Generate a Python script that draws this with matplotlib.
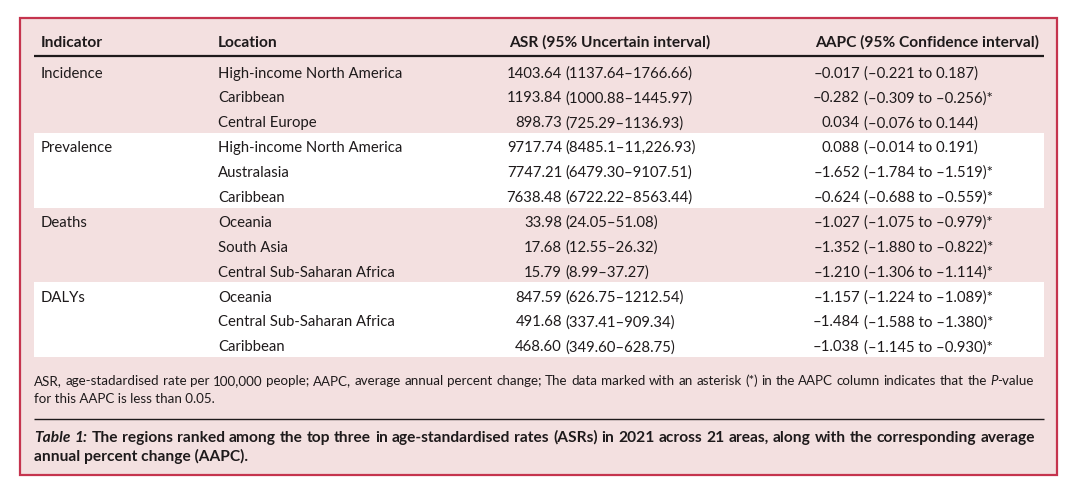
import matplotlib.pyplot as plt
from matplotlib.patches import Rectangle

plt.rcParams["font.family"] = ["Lato", "DejaVu Sans"]

# table data
indicators = ["Incidence", "Prevalence", "Deaths", "DALYs"]
locations = [
    "High-income North America", "Caribbean", "Central Europe",
    "High-income North America", "Australasia", "Caribbean",
    "Oceania", "South Asia", "Central Sub-Saharan Africa",
    "Oceania", "Central Sub-Saharan Africa", "Caribbean",
]
asr_values = ["1403.64", "1193.84", "898.73",
              "9717.74", "7747.21", "7638.48",
              "33.98", "17.68", "15.79",
              "847.59", "491.68", "468.60"]
asr_intervals = ["(1137.64–1766.66)", "(1000.88–1445.97)", "(725.29–1136.93)",
                 "(8485.1–11,226.93)", "(6479.30–9107.51)", "(6722.22–8563.44)",
                 "(24.05–51.08)", "(12.55–26.32)", "(8.99–37.27)",
                 "(626.75–1212.54)", "(337.41–909.34)", "(349.60–628.75)"]
aapc_values = ["–0.017", "–0.282", "0.034",
               "0.088", "–1.652", "–0.624",
               "–1.027", "–1.352", "–1.210",
               "–1.157", "–1.484", "–1.038"]
aapc_intervals = ["(–0.221 to 0.187)", "(–0.309 to –0.256)", "(–0.076 to 0.144)",
                  "(–0.014 to 0.191)", "(–1.784 to –1.519)", "(–0.688 to –0.559)",
                  "(–1.075 to –0.979)", "(–1.880 to –0.822)", "(–1.306 to –1.114)",
                  "(–1.224 to –1.089)", "(–1.588 to –1.380)", "(–1.145 to –0.930)"]
aapc_sig = [False, True, False,
            False, True, True,
            True, True, True,
            True, True, True]
headers = ["Indicator", "Location", "ASR (95% Uncertain interval)",
           "AAPC (95% Confidence interval)"]

footnote_1 = ("ASR, age-stadardised rate per 100,000 people; AAPC, average annual percent "
              "change; The data marked with an asterisk (*) in the AAPC column indicates that the")
footnote_2 = "for this AAPC is less than 0.05."
caption_1 = ("The regions ranked among the top three in age-standardised rates (ASRs) in 2021 "
             "across 21 areas, along with the corresponding average")
caption_2 = "annual percent change (AAPC)."

PINK = "#f3e0e0"
BORDER = "#c5344e"
INK = "#1e1a1b"

W, H = 1080, 491
fig = plt.figure(figsize=(W / 100, H / 100), dpi=100)
fig.patch.set_facecolor("white")
ax = fig.add_axes([0, 0, 1, 1])
ax.set_xlim(0, W)
ax.set_ylim(H, 0)
ax.axis("off")
renderer = fig.canvas.get_renderer()


def text_width(s, size, weight="normal", style="normal"):
    t = ax.text(0, 0, s, fontsize=size, fontweight=weight, fontstyle=style)
    w = t.get_window_extent(renderer).width
    t.remove()
    return w


def fit_size(s, target, weight="normal"):
    return 10 * target / text_width(s, 10, weight)


def put(x, y, s, size, weight="normal", style="normal", ha="left"):
    ax.text(x, y, s, fontsize=size, fontweight=weight, fontstyle=style,
            va="baseline", ha=ha, color=INK)


body = fit_size("High-income North America", 184)
head = fit_size(headers[2], 200, "bold")
note = fit_size(footnote_1 + " P-value", 994)
cap = fit_size(caption_2, 213, "bold")
space = text_width("0 0", body) - text_width("00", body)


def justified(words, x0, x1, y, size):
    widths = [sum(text_width(s, size, w, st) for s, w, st in word) for word in words]
    gap = (x1 - x0 - sum(widths)) / (len(words) - 1)
    x = x0
    for word, wd in zip(words, widths):
        xx = x
        for s, w, st in word:
            put(xx, y, s, size, w, st)
            xx += text_width(s, size, w, st)
        x += wd + gap


# frame
ax.add_patch(Rectangle((20, 18), 1037, 457, facecolor=PINK, edgecolor=BORDER, lw=1.6, zorder=0))

base0, step = 77.5, 24.9
for g in (1, 3):
    top = base0 + step * 3 * g - 19.2
    ax.add_patch(Rectangle((34, top), 1010, step * 3, facecolor="white", edgecolor="none", zorder=1))

# header
col_x = [41, 218, 509, 815]
for x, h in zip(col_x, headers):
    put(x, 47, h, head, "bold")
ax.plot([34, 1044], [55.5, 55.5], color=INK, lw=1.6, solid_capstyle="butt")

# rows
asr_right, aapc_right = 562, 860
for i in range(len(locations)):
    y = base0 + step * i
    if i % 3 == 0:
        put(41, y, indicators[i // 3], body)
    put(218, y, locations[i], body)
    put(asr_right, y, asr_values[i], body, ha="right")
    put(asr_right + space - 0.5, y, asr_intervals[i], body)
    put(aapc_right, y, aapc_values[i], body, ha="right")
    put(aapc_right + space + 0.5, y, aapc_intervals[i] + ("*" if aapc_sig[i] else ""), body)

# footnote
words = [[(w, "normal", "normal")] for w in footnote_1.split()]
words.append([("P", "normal", "italic"), ("-value", "normal", "normal")])
justified(words, 34, 1034, 385, note)
put(34, 403, footnote_2, note)

ax.plot([34, 1044], [419, 419], color=INK, lw=1.0, solid_capstyle="butt")

# caption
words = [[("Table", "bold", "italic")], [("1:", "bold", "italic")]]
words += [[(w, "bold", "normal")] for w in caption_1.split()]
justified(words, 34, 1035, 442, cap)
put(34, 461, caption_2, cap, "bold")

fig.savefig("out.png", dpi=100, facecolor="white")
